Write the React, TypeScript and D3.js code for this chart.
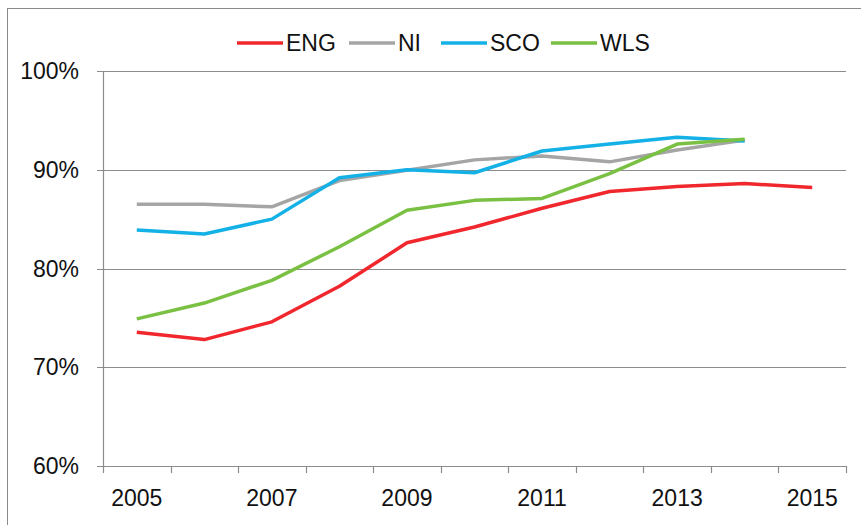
import React from "react";
import * as d3 from "d3";

const years = ["2005", "2006", "2007", "2008", "2009", "2010", "2011", "2012", "2013", "2014", "2015"];
const tickYears = ["2005", "2007", "2009", "2011", "2013", "2015"];
const yTicks = [60, 70, 80, 90, 100];

const eng = [73.55, 72.8, 74.6, 78.2, 82.6, 84.2, 86.1, 87.8, 88.3, 88.6, 88.2];
const ni = [86.5, 86.5, 86.25, 88.9, 89.95, 91.0, 91.4, 90.8, 92.0, 93.0];
const sco = [83.9, 83.5, 85.0, 89.2, 90.0, 89.7, 91.9, 92.6, 93.3, 92.9];
const wls = [74.9, 76.5, 78.8, 82.2, 85.9, 86.9, 87.1, 89.6, 92.6, 93.1];

const seriesNames = ["ENG", "NI", "SCO", "WLS"];
const seriesColors = ["#f0282d", "#a5a5a5", "#14b1e7", "#7ac143"];
const seriesData = [eng, ni, sco, wls];

const FONT = "'Liberation Sans Narrow', 'Liberation Sans', Arial, sans-serif";

export default function App() {
  const width = 861;
  const height = 525;
  const margin = { left: 103, right: 15, top: 71, bottom: 59 };

  const x = d3
    .scaleBand<string>()
    .domain(years)
    .range([margin.left, width - margin.right])
    .padding(0);
  const y = d3
    .scaleLinear()
    .domain([60, 100])
    .range([height - margin.bottom, margin.top]);

  const lineGen = d3
    .line<number>()
    .x((_, i) => (x(years[i]) as number) + x.bandwidth() / 2)
    .y((d) => y(d));

  const legendX = [237, 349, 441, 551];

  return (
    <svg
      width={width}
      height={height}
      style={{ position: "absolute", left: 0, top: 0, background: "white", fontFamily: FONT }}
    >
      <rect x={7.5} y={8.5} width={width} height={height} fill="white" stroke="#8a8a8a" strokeWidth={1} />

      {yTicks.map((t) => (
        <g key={t}>
          <line
            x1={margin.left - 6}
            x2={width - margin.right}
            y1={Math.round(y(t)) + 0.5}
            y2={Math.round(y(t)) + 0.5}
            stroke="#8c8c8c"
            strokeWidth={1.2}
          />
          <text x={79} y={y(t) + 8} textAnchor="end" fontSize={23} fill="#111">
            {t}%
          </text>
        </g>
      ))}

      <line
        x1={margin.left + 0.5}
        x2={margin.left + 0.5}
        y1={margin.top}
        y2={y(60)}
        stroke="#8c8c8c"
        strokeWidth={1.2}
      />
      {years.concat(["end"]).map((yr, i) => {
        const xx = i < years.length ? (x(yr) as number) : x.range()[1];
        return (
          <line
            key={"t" + i}
            x1={Math.round(xx) + 0.5}
            x2={Math.round(xx) + 0.5}
            y1={y(60)}
            y2={y(60) + 7}
            stroke="#8c8c8c"
            strokeWidth={1.2}
          />
        );
      })}
      {tickYears.map((yr) => (
        <text
          key={yr}
          x={(x(yr) as number) + x.bandwidth() / 2}
          y={506}
          textAnchor="middle"
          fontSize={23}
          fill="#111"
        >
          {yr}
        </text>
      ))}

      {seriesData.map((d, i) => (
        <path
          key={seriesNames[i]}
          d={lineGen(d) || ""}
          fill="none"
          stroke={seriesColors[i]}
          strokeWidth={3.5}
          strokeLinejoin="round"
        />
      ))}

      {seriesNames.map((n, i) => (
        <g key={"lg" + n}>
          <line
            x1={legendX[i]}
            x2={legendX[i] + 46}
            y1={43}
            y2={43}
            stroke={seriesColors[i]}
            strokeWidth={3.5}
          />
          <text x={legendX[i] + 49} y={51} fontSize={23} fill="#111">
            {n}
          </text>
        </g>
      ))}
    </svg>
  );
}
